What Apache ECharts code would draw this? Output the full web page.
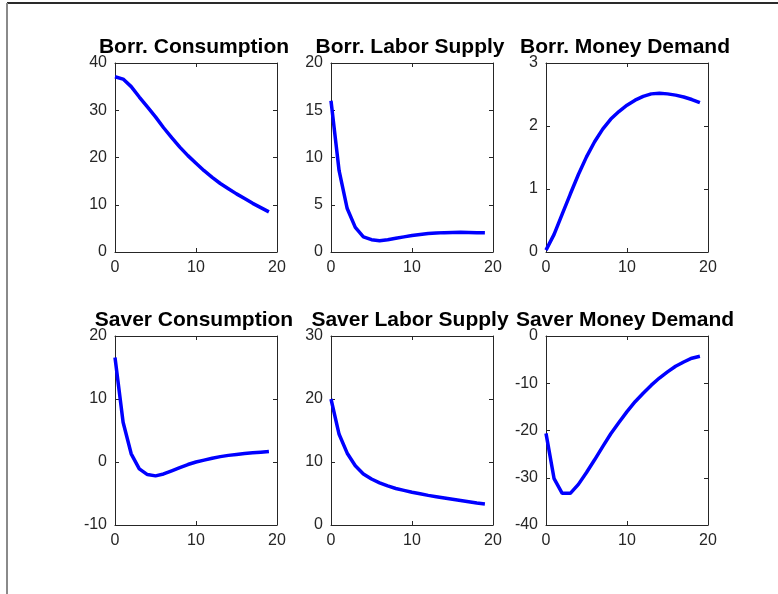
<!DOCTYPE html>
<html>
<head>
<meta charset="utf-8">
<script src="https://cdn.jsdelivr.net/npm/echarts@6/dist/echarts.min.js"></script>
<style>
html, body { margin: 0; padding: 0; background: #fff; }
#main { width: 778px; height: 594px; }
</style>
</head>
<body>
<div id="main"></div>
<script>
// horizon 0..19
var periods = [0,1,2,3,4,5,6,7,8,9,10,11,12,13,14,15,16,17,18,19];

var titles = ['Borr. Consumption', 'Borr. Labor Supply', 'Borr. Money Demand',
              'Saver Consumption', 'Saver Labor Supply', 'Saver Money Demand'];

var borrCons = [37.1, 36.6, 35.0, 32.8, 30.7, 28.6, 26.3, 24.2, 22.2, 20.4, 18.8, 17.2, 15.8, 14.5, 13.4, 12.3, 11.3, 10.3, 9.4, 8.5];
var borrLabor = [16.0, 8.6, 4.6, 2.6, 1.6, 1.3, 1.2, 1.3, 1.45, 1.6, 1.75, 1.85, 1.95, 2.0, 2.05, 2.07, 2.08, 2.07, 2.05, 2.03];
var borrMoney = [0.03, 0.28, 0.6, 0.92, 1.23, 1.51, 1.75, 1.95, 2.11, 2.23, 2.33, 2.41, 2.47, 2.51, 2.52, 2.51, 2.49, 2.46, 2.42, 2.37];
var saverCons = [16.6, 6.3, 1.3, -1.1, -2.0, -2.2, -1.9, -1.4, -0.9, -0.4, 0.0, 0.3, 0.6, 0.85, 1.05, 1.2, 1.35, 1.45, 1.55, 1.65];
var saverLabor = [20.0, 14.4, 11.4, 9.4, 8.1, 7.3, 6.7, 6.2, 5.8, 5.5, 5.2, 4.95, 4.7, 4.5, 4.3, 4.1, 3.9, 3.7, 3.5, 3.35];
var saverMoney = [-20.6, -30.2, -33.3, -33.3, -31.4, -28.9, -26.2, -23.4, -20.7, -18.3, -16.0, -13.9, -12.1, -10.4, -8.9, -7.6, -6.4, -5.5, -4.7, -4.3];

var allSeries = [borrCons, borrLabor, borrMoney, saverCons, saverLabor, saverMoney];
// y axis ranges [min, max, interval]
var yRanges = [[0, 40, 10], [0, 20, 5], [0, 3, 1], [-10, 20, 10], [0, 30, 10], [-40, 0, 10]];

var lefts = [115, 331, 546];
var tops = [63, 336];
var W = 162, H = 189;
var axisColor = '#262626';
var fontFam = 'Liberation Sans, Arial, sans-serif';

var myChart = echarts.init(document.getElementById('main'));

var grid = [], xAxis = [], yAxis = [], series = [], title = [];
for (var i = 0; i < 6; i++) {
	var col = i % 3, row = Math.floor(i / 3);
	grid.push({ left: lefts[col], top: tops[row], width: W, height: H });
	title.push({
		text: titles[i],
		left: lefts[col] + W / 2 - 2,
		top: tops[row] - 26,
		textAlign: 'center',
		padding: 0,
		textStyle: { fontFamily: fontFam, fontWeight: 'bold', fontSize: 21, color: '#000' }
	});
	var tick = { show: true, inside: true, length: 4, lineStyle: { color: axisColor } };
	var line = { show: true, onZero: false, lineStyle: { color: axisColor, width: 1 } };
	// bottom + top x axes (box)
	xAxis.push({
		type: 'value', gridIndex: i, min: 0, max: 20, interval: 10, position: 'bottom',
		axisLine: line, axisTick: tick, splitLine: { show: false },
		axisLabel: { margin: 8, fontFamily: fontFam, fontSize: 16, color: axisColor }
	});
	xAxis.push({
		type: 'value', gridIndex: i, min: 0, max: 20, interval: 10, position: 'top',
		axisLine: line, axisTick: tick, splitLine: { show: false }, axisLabel: { show: false }
	});
	var yr = yRanges[i];
	yAxis.push({
		type: 'value', gridIndex: i, min: yr[0], max: yr[1], interval: yr[2], position: 'left',
		axisLine: line, axisTick: tick, splitLine: { show: false },
		axisLabel: { margin: 8, fontFamily: fontFam, fontSize: 16, color: axisColor }
	});
	yAxis.push({
		type: 'value', gridIndex: i, min: yr[0], max: yr[1], interval: yr[2], position: 'right',
		axisLine: line, axisTick: tick, splitLine: { show: false }, axisLabel: { show: false }
	});
	var vals = allSeries[i];
	series.push({
		type: 'line',
		xAxisIndex: i * 2,
		yAxisIndex: i * 2,
		data: periods.map(function(p, k) { return [p, vals[k]]; }),
		showSymbol: false,
		lineStyle: { color: '#0000ff', width: 3.5 },
		animation: false
	});
}

var option = {
	backgroundColor: '#fff',
	animation: false,
	title: title,
	grid: grid,
	xAxis: xAxis,
	yAxis: yAxis,
	series: series,
	graphic: [
		{ type: 'line', shape: { x1: 7, y1: 3, x2: 778, y2: 3 }, style: { stroke: '#2a2a2a', lineWidth: 2 } },
		{ type: 'line', shape: { x1: 7, y1: 3, x2: 7, y2: 594 }, style: { stroke: '#8a8a8a', lineWidth: 2 } }
	]
};
myChart.setOption(option);
</script>
</body>
</html>
